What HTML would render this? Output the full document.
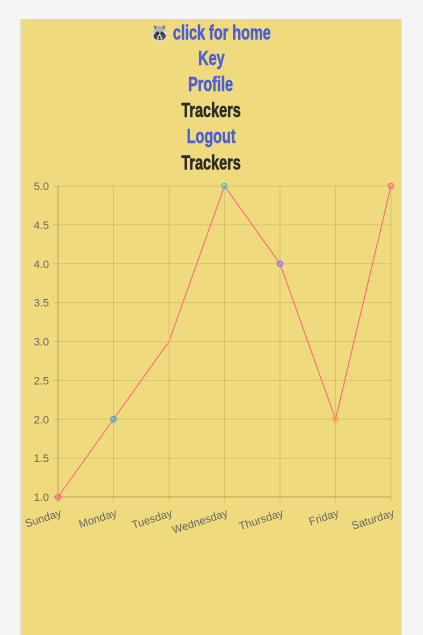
<!DOCTYPE html>
<html><head><meta charset="utf-8"><style>
body{margin:0;background:#f4f5f5;width:423px;height:635px;overflow:hidden;font-family:"Liberation Sans",sans-serif}
#panel{position:absolute;left:20px;top:19px;width:380px;height:616px;background:#efdb7e;border-left:1px solid #e2e2e2;border-right:1px solid #e2e2e2}
.nav{position:absolute;left:0;width:380px;text-align:center;font-weight:bold;font-size:19px;line-height:26px;color:#4a5fd6;text-decoration:none}
.nav span{display:inline-block;transform:scale(0.76,1.05);-webkit-text-stroke:0.5px currentColor}
.cur{color:#2b2b2b}
svg{position:absolute;left:0;top:0}
</style></head><body>
<div id="panel">
<a class="nav" style="top:2px"><span>🦝 click for home</span></a>
<a class="nav" style="top:28px"><span>Key</span></a>
<a class="nav" style="top:54px"><span>Profile</span></a>
<div class="nav cur" style="top:80px"><span>Trackers</span></div>
<a class="nav" style="top:106px"><span>Logout</span></a>
<div class="nav cur" style="top:132px"><span>Trackers</span></div>
</div>
<svg id="chart" width="423" height="635"></svg>
<script>
const categories=["Sunday","Monday","Tuesday","Wednesday","Thursday","Friday","Saturday"];
const values=[1,2,3,5,4,2,5];
const yTicks=[1.0,1.5,2.0,2.5,3.0,3.5,4.0,4.5,5.0];
const pointColors=["#ff6384","#36a2eb","#ffcd56","#4bc0c0","#9966ff","#ff9f40","#ff6384"];
const NS="http://www.w3.org/2000/svg";
const svg=document.getElementById('chart');
const L=58,R=391,T=186,B=497,ymin=1,ymax=5;
const x=i=>L+(R-L)*i/(categories.length-1);
const y=v=>B-(B-T)*(v-ymin)/(ymax-ymin);
function mk(t,a){const e=document.createElementNS(NS,t);for(const k in a)e.setAttribute(k,a[k]);svg.appendChild(e);return e;}
yTicks.forEach(v=>{
 const g=mk('line',{x1:L-5,x2:R,y1:y(v),y2:y(v),stroke:v===ymin?'#b8a45e':'rgba(0,0,0,0.1)','stroke-width':1});
 
 
 const t=mk('text',{x:L-9,y:y(v)+4,'text-anchor':'end','font-size':11,fill:'#666','font-family':'Liberation Sans, sans-serif'});
 t.textContent=v.toFixed(1);
 
 
});
categories.forEach((c,i)=>{
 const g=mk('line',{x1:x(i),x2:x(i),y1:T,y2:B+5,stroke:i===0?'#b8a45e':'rgba(0,0,0,0.1)','stroke-width':1});
 
 
 const ax=x(i)+4,ay=B+19;
 const t=mk('text',{x:ax,y:ay,'text-anchor':'end','font-size':11,fill:'#666','font-family':'Liberation Sans, sans-serif',transform:`rotate(-18 ${ax} ${ay})`});
 t.textContent=c;
 
 
});
const line=mk('polyline',{points:values.map((v,i)=>x(i)+','+y(v)).join(' '),fill:'none',stroke:'#ff6384','stroke-width':1});


values.forEach((v,i)=>{
 const p=mk('circle',{cx:x(i),cy:y(v),r:2.8,fill:pointColors[i]+'55',stroke:pointColors[i],'stroke-width':1});
 
 
});
</script>
</body></html>
